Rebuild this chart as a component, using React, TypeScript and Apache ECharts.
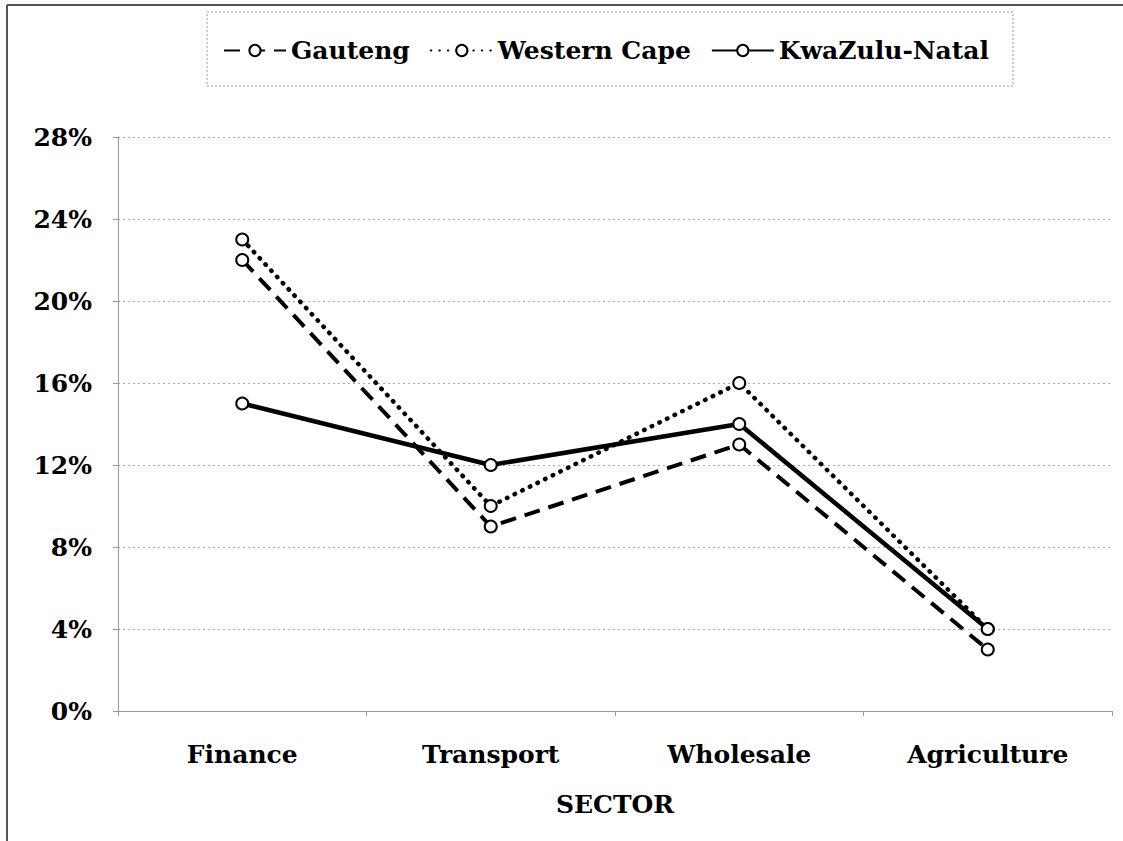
import React, { useEffect, useRef } from "react";
import * as echarts from "echarts";

const categories = ["Finance", "Transport", "Wholesale", "Agriculture"];
const seriesNames = ["Gauteng", "Western Cape", "KwaZulu-Natal"];
const gauteng = [22, 9, 13, 3];
const westernCape = [23, 10, 16, 4];
const kwaZuluNatal = [15, 12, 14, 4];
const yMin = 0;
const yMax = 28;
const yStep = 4;
const xAxisTitle = "SECTOR";

const FONT = "'DejaVu Serif', 'Liberation Serif', serif";

export default function App() {
  const ref = useRef<HTMLDivElement>(null);
  useEffect(() => {
    if (!ref.current) return;
    const chart = echarts.init(ref.current, undefined, { renderer: "svg" });
    const common = {
      type: "line",
      symbol: "emptyCircle",
      symbolSize: 12,
      itemStyle: { color: "#000", borderColor: "#000", borderWidth: 2 },
    };
    chart.setOption({
      animation: false,
      backgroundColor: "#fff",
      textStyle: { fontFamily: FONT },
      legend: {
        left: 218,
        top: 33,
        itemWidth: 62,
        itemHeight: 14,
        itemGap: 20,
        textStyle: { fontFamily: FONT, fontWeight: "bold", fontSize: 25, color: "#000" },
        data: seriesNames,
      },
      grid: { left: 118, right: 11, top: 137, bottom: 130, containLabel: false },
      xAxis: {
        type: "category",
        data: categories,
        boundaryGap: true,
        axisLine: { lineStyle: { color: "#999", width: 1 } },
        axisTick: { show: true, length: 5, lineStyle: { color: "#999" } },
        axisLabel: {
          margin: 31,
          fontFamily: FONT,
          fontWeight: "bold",
          fontSize: 25,
          color: "#000",
        },
        name: xAxisTitle,
        nameLocation: "middle",
        nameGap: 81,
        nameTextStyle: { fontFamily: FONT, fontWeight: "bold", fontSize: 25, color: "#000" },
      },
      yAxis: {
        type: "value",
        min: yMin,
        max: yMax,
        interval: yStep,
        axisLine: { show: true, lineStyle: { color: "#999", width: 1 } },
        axisTick: { show: true, length: 5, lineStyle: { color: "#999" } },
        axisLabel: {
          margin: 26,
          fontFamily: FONT,
          fontWeight: "bold",
          fontSize: 25,
          color: "#000",
          formatter: (v: number) => `${v}%`,
        },
        splitLine: { show: true, lineStyle: { color: "#aaa", width: 1, type: [2, 3] } },
      },
      graphic: [
        {
          type: "line",
          shape: { x1: 7, y1: 5, x2: 1123, y2: 5 },
          style: { stroke: "#555", lineWidth: 2 },
        },
        {
          type: "line",
          shape: { x1: 7, y1: 5, x2: 7, y2: 841 },
          style: { stroke: "#555", lineWidth: 2 },
        },
        {
          type: "rect",
          shape: { x: 207, y: 12, width: 806, height: 74 },
          style: { fill: "none", stroke: "#999", lineWidth: 1, lineDash: [2, 2] },
          z: -1,
        },
      ],
      series: [
        {
          ...common,
          name: seriesNames[0],
          data: gauteng,
          lineStyle: { color: "#000", width: 4, type: [16, 9] },
        },
        {
          ...common,
          name: seriesNames[1],
          data: westernCape,
          lineStyle: { color: "#000", width: 4.5, type: [0.5, 8], cap: "round" },
        },
        {
          ...common,
          name: seriesNames[2],
          data: kwaZuluNatal,
          lineStyle: { color: "#000", width: 4.5, type: "solid" },
        },
      ],
    });
    return () => chart.dispose();
  }, []);
  return (
    <div
      ref={ref}
      style={{ position: "fixed", left: 0, top: 0, width: 1123, height: 841, background: "#fff" }}
    />
  );
}
